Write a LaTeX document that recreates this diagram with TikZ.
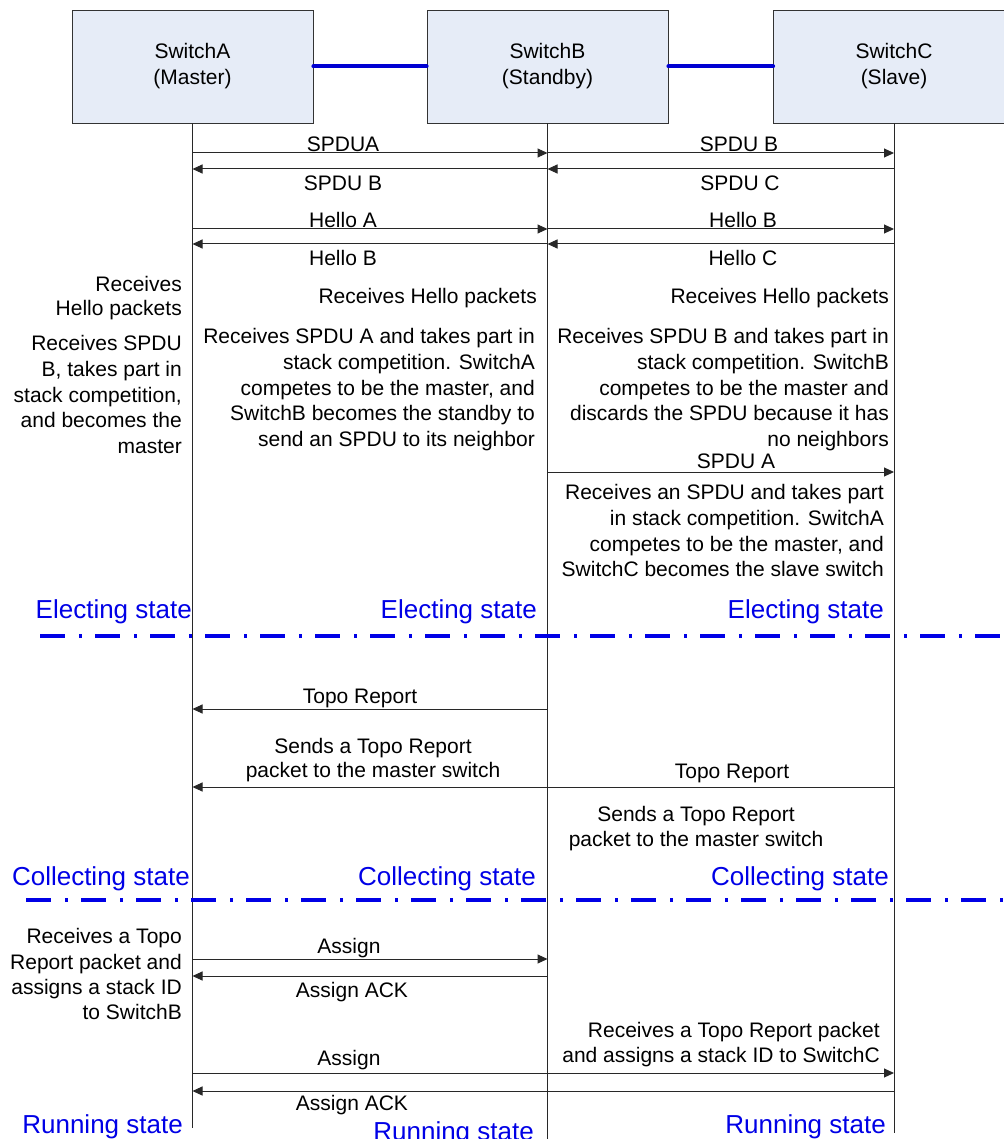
\documentclass[tikz,border=0pt]{standalone}
\usepackage{fontspec}
\setmainfont{Liberation Sans}
\usetikzlibrary{arrows.meta}
\definecolor{boxfill}{RGB}{230,236,247}
\definecolor{linkblue}{RGB}{0,0,210}
\definecolor{stateblue}{RGB}{0,0,230}
\definecolor{wire}{RGB}{40,40,40}
\begin{document}
\begin{tikzpicture}[x=1pt,y=-1pt,
  switchbox/.style={draw=black!80, line width=0.8pt, fill=boxfill,
    minimum width=241pt, minimum height=113pt, inner sep=0pt,
    align=center, font=\fontsize{21}{26}\selectfont},
  link/.style={linkblue, line width=4pt, line cap=round},
  life/.style={draw=wire, line width=1pt},
  msg/.style={draw=wire, line width=1pt, -{Triangle[length=10pt,width=9pt]}},
  lbl/.style={inner sep=0pt, font=\fontsize{21}{25}\selectfont, anchor=base},
  note/.style={inner sep=0pt, font=\fontsize{21}{25.6}\selectfont,
    align=right, anchor=north east},
  cnote/.style={inner sep=0pt, font=\fontsize{21}{24.5}\selectfont,
    align=center, anchor=north},
  state/.style={inner sep=0pt, text=stateblue,
    font=\fontsize{26}{30}\selectfont, anchor=base east},
  phase/.style={stateblue, line width=3.2pt,
    dash pattern=on 25pt off 14pt on 2.5pt off 13.5pt}
]
\useasboundingbox (0,0) rectangle (1003,1139);

% the three stack members
\node[switchbox] (A) at (192.5,66.5) {SwitchA\\(Master)};
\node[switchbox] (B) at (547.5,66.5) {SwitchB\\(Standby)};
\node[switchbox] (C) at (894,66.5) {SwitchC\\(Slave)};

% stack links
\draw[link] (A.east) -- (B.west);
\draw[link] (B.west -| B.east) -- (C.west);

% lifelines
\coordinate (aEnd) at (A.south |- 0,1128);
\coordinate (bEnd) at (B.south |- 0,1139);
\coordinate (cEnd) at (C.south |- 0,1133);
\draw[life] (A.south) -- (aEnd);
\draw[life] (B.south) -- (bEnd);
\draw[life] (C.south) -- (cEnd);

% ---- electing phase ----
\draw[msg] (A.south |- 0,153) -- (B.south |- 0,153);
\draw[msg] (B.south |- 0,153) -- (C.south |- 0,153);
\node[lbl] (l1) at (343,151.5) {SPDUA};
\node[lbl] (l2) at (739,151.5) {SPDU B};
\draw[msg] (B.south |- 0,169) -- (A.south |- 0,169);
\draw[msg] (C.south |- 0,169) -- (B.south |- 0,169);
\node[lbl] (l3) at (343,190.5) {SPDU B};
\node[lbl] (l4) at (740,190.5) {SPDU C};

\draw[msg] (A.south |- 0,229) -- (B.south |- 0,229);
\draw[msg] (B.south |- 0,229) -- (C.south |- 0,229);
\node[lbl] (l5) at (343,228) {Hello A};
\node[lbl] (l6) at (743,228) {Hello B};
\draw[msg] (B.south |- 0,244) -- (A.south |- 0,244);
\draw[msg] (C.south |- 0,244) -- (B.south |- 0,244);
\node[lbl] (l7) at (343,266) {Hello B};
\node[lbl] (l8) at (743,266) {Hello C};

\node[note, font=\fontsize{21}{24}\selectfont] (n1) at (182,276.5) {Receives\\Hello packets};
\node[lbl, anchor=base east] (n2) at (537,303.5) {Receives Hello packets};
\node[lbl, anchor=base east] (n3) at (889,303.5) {Receives Hello packets};

\node[note] (n4) at (182,335.5) {Receives SPDU\\B, takes part in\\stack competition,\\and becomes the\\master};
\node[note] (n5) at (535,328.5) {Receives SPDU A and takes part in\\stack competition. SwitchA\\competes to be the master, and\\SwitchB becomes the standby to\\send an SPDU to its neighbor};
\node[note] (n6) at (889,328.5) {Receives SPDU B and takes part in\\stack competition. SwitchB\\competes to be the master and\\discards the SPDU because it has\\no neighbors};

\draw[msg] (B.south |- 0,472) -- (C.south |- 0,472);
\node[lbl] (l9) at (736,468.5) {SPDU A};
\node[note] (n7) at (884,484.5) {Receives an SPDU and takes part\\in stack competition. SwitchA\\competes to be the master, and\\SwitchC becomes the slave switch};

\node[state] (s1) at (192,618) {Electing state};
\node[state] (s2) at (537,618) {Electing state};
\node[state] (s3) at (884,618) {Electing state};
\coordinate (p1a) at (40,636);
\coordinate (p1b) at (1003,636);
\draw[phase] (p1a) -- (p1b);

% ---- collecting phase ----
\draw[msg] (B.south |- 0,709) -- (A.south |- 0,709);
\node[lbl] (l10) at (360,703.5) {Topo Report};
\node[cnote] (n8) at (373,738) {Sends a Topo Report\\packet to the master switch};
\draw[msg] (C.south |- 0,787) -- (A.south |- 0,787);
\node[lbl] (l11) at (732,778) {Topo Report};
\node[cnote] (n9) at (696,806.5) {Sends a Topo Report\\packet to the master switch};

\node[state] (s4) at (190,885) {Collecting state};
\node[state] (s5) at (536,885) {Collecting state};
\node[state] (s6) at (889,885) {Collecting state};
\coordinate (p2a) at (26,900);
\coordinate (p2b) at (1003,900);
\draw[phase] (p2a) -- (p2b);

% ---- running phase ----
\node[note, font=\fontsize{21}{25.3}\selectfont] (n10) at (182,928.5) {Receives a Topo\\Report packet and\\assigns a stack ID\\to SwitchB};
\draw[msg] (A.south |- 0,959) -- (B.south |- 0,959);
\node[lbl] (l12) at (349,953) {Assign};
\draw[msg] (B.south |- 0,976) -- (A.south |- 0,976);
\node[lbl] (l13) at (352,997.5) {Assign ACK};

\node[note, font=\fontsize{21}{25}\selectfont] (n11) at (880,1022.5) {Receives a Topo Report packet\\and assigns a stack ID to SwitchC};
\draw[msg] (A.south |- 0,1073) -- (C.south |- 0,1073);
\node[lbl] (l14) at (349,1065.5) {Assign};
\draw[msg] (C.south |- 0,1091) -- (A.south |- 0,1091);
\node[lbl] (l15) at (352,1110.5) {Assign ACK};

\node[state] (s7) at (183,1133.5) {Running state};
\node[state] (s8) at (534,1140) {Running state};
\node[state] (s9) at (886,1133.5) {Running state};
\end{tikzpicture}
\end{document}
